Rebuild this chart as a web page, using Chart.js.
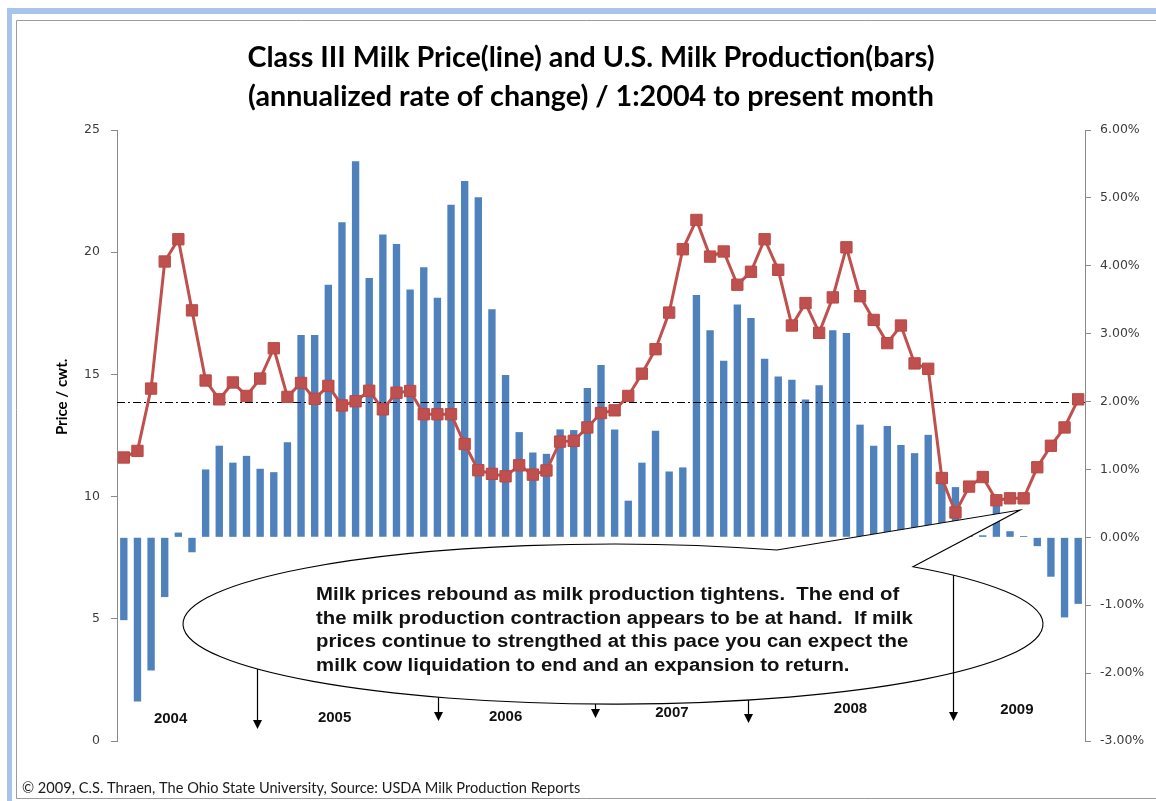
<!DOCTYPE html>
<html>
<head>
<meta charset="utf-8">
<title>Class III Milk Price and U.S. Milk Production</title>
<script src="https://cdn.jsdelivr.net/npm/chart.js@4.4.1/dist/chart.umd.min.js"></script>
<style>
  html, body { margin: 0; padding: 0; background: #fff; }
  #wrap { position: relative; width: 1156px; height: 801px; }
</style>
</head>
<body>
<div id="wrap"><canvas id="milkChart" width="1156" height="801"></canvas></div>
<script>
// Months Jan 2004 .. Nov 2009
const months = [
  'Jan-04', 'Feb-04', 'Mar-04', 'Apr-04', 'May-04', 'Jun-04', 'Jul-04', 'Aug-04', 'Sep-04', 'Oct-04', 'Nov-04', 'Dec-04',
  'Jan-05', 'Feb-05', 'Mar-05', 'Apr-05', 'May-05', 'Jun-05', 'Jul-05', 'Aug-05', 'Sep-05', 'Oct-05', 'Nov-05', 'Dec-05',
  'Jan-06', 'Feb-06', 'Mar-06', 'Apr-06', 'May-06', 'Jun-06', 'Jul-06', 'Aug-06', 'Sep-06', 'Oct-06', 'Nov-06', 'Dec-06',
  'Jan-07', 'Feb-07', 'Mar-07', 'Apr-07', 'May-07', 'Jun-07', 'Jul-07', 'Aug-07', 'Sep-07', 'Oct-07', 'Nov-07', 'Dec-07',
  'Jan-08', 'Feb-08', 'Mar-08', 'Apr-08', 'May-08', 'Jun-08', 'Jul-08', 'Aug-08', 'Sep-08', 'Oct-08', 'Nov-08', 'Dec-08',
  'Jan-09', 'Feb-09', 'Mar-09', 'Apr-09', 'May-09', 'Jun-09', 'Jul-09', 'Aug-09', 'Sep-09', 'Oct-09', 'Nov-09',
];

// Class III price, $/cwt (left axis)
const classIIIPrice = [
  11.60, 11.87, 14.42, 19.62, 20.53, 17.62, 14.75, 13.98, 14.67, 14.12, 14.83, 16.07,
  14.08, 14.65, 14.00, 14.53, 13.73, 13.90, 14.33, 13.57, 14.25, 14.32, 13.37, 13.37,
  13.37, 12.15, 11.08, 10.93, 10.83, 11.28, 10.90, 11.07, 12.25, 12.28, 12.83, 13.42,
  13.53, 14.12, 15.03, 16.03, 17.53, 20.12, 21.32, 19.82, 20.03, 18.67, 19.20, 20.53,
  19.28, 17.00, 17.92, 16.70, 18.15, 20.20, 18.20, 17.23, 16.28, 17.00, 15.45, 15.23,
  10.76, 9.35, 10.41, 10.80, 9.85, 9.93, 9.93, 11.20, 12.08, 12.83, 13.98,
];

// U.S. milk production, annualized % change (right axis)
const productionChange = [
  -1.22, -2.42, -1.96, -0.88, 0.07, -0.22, 1.00, 1.35, 1.10, 1.20, 1.01, 0.96,
  1.40, 2.98, 2.98, 3.72, 4.64, 5.54, 3.82, 4.46, 4.32, 3.65, 3.98, 3.53,
  4.90, 5.25, 5.01, 3.36, 2.39, 1.55, 1.25, 1.23, 1.59, 1.58, 2.20, 2.54,
  1.59, 0.54, 1.10, 1.57, 0.97, 1.03, 3.57, 3.05, 2.60, 3.43, 3.23, 2.63,
  2.37, 2.32, 2.03, 2.24, 3.05, 3.01, 1.66, 1.35, 1.64, 1.36, 1.24, 1.51,
  0.80, 0.74, 0.15, 0.03, 0.47, 0.09, 0.02, -0.13, -0.58, -1.18, -0.98,
];

const years = ['2004', '2005', '2006', '2007', '2008', '2009'];
const refLevel = 2.0; // dash-dot reference, % on right axis

const titleLines = [
  'Class III Milk Price(line) and U.S. Milk Production(bars)',
  '(annualized rate of change) / 1:2004 to present month',
];
const calloutLines = [
  'Milk prices rebound as milk production tightens.  The end of',
  'the milk production contraction appears to be at hand.  If milk',
  'prices continue to strengthed at this pace you can expect the',
  'milk cow liquidation to end and an expansion to return.',
];
const leftAxisTitle = 'Price / cwt.';
const footerText = '\u00A9 2009, C.S. Thraen, The Ohio State University, Source: USDA Milk Production Reports';

/**
 * Frame, reference line, callout, arrows and labels.
 */
const milkDecor = {
  id: 'milkDecor',

  beforeDraw(chart) {
    const { ctx, width, height } = chart;
    ctx.save();
    ctx.fillStyle = '#ffffff';
    ctx.fillRect(0, 0, width, height);
    ctx.fillStyle = '#a9c4ea';
    ctx.fillRect(7, 8, width - 7, 6);
    ctx.fillRect(7, 8, 5, height - 8);
    ctx.strokeStyle = '#9c9c9c';
    ctx.lineWidth = 1;
    ctx.beginPath();
    ctx.moveTo(width, 20.5);
    ctx.lineTo(16.5, 20.5);
    ctx.lineTo(16.5, 798.5);
    ctx.lineTo(width, 798.5);
    ctx.stroke();
    ctx.restore();
  },

  afterDatasetDraw(chart, args) {
    if (args.index !== 1) return; // after the bars, under the line
    const { ctx, chartArea } = chart;
    const y = Math.round(chart.scales.y1.getPixelForValue(refLevel)) + 0.5;
    ctx.save();
    ctx.strokeStyle = '#000';
    ctx.lineWidth = 1;
    ctx.setLineDash([8, 3, 2, 3]);
    ctx.beginPath();
    ctx.moveTo(chartArea.left, y);
    ctx.lineTo(chartArea.right, y);
    ctx.stroke();
    ctx.restore();
  },

  afterDatasetsDraw(chart) {
    const { ctx, chartArea } = chart;
    const xs = chart.scales.x;
    const ys = chart.scales.y;
    const X = i => xs.getPixelForValue(i);
    const Y = v => ys.getPixelForValue(v);

    // callout ellipse with wedge
    const eL = X(4.34), eR = X(67.42), eT = Y(8.06), eB = Y(1.51);
    const cx = (eL + eR) / 2, cy = (eT + eB) / 2;
    const rx = (eR - eL) / 2, ry = (eB - eT) / 2;
    const angAt = px => Math.atan2(-Math.sqrt(1 - Math.pow((px - cx) / rx, 2)), (px - cx) / rx);
    const aA = angAt(X(47.9));
    const aB = angAt(X(57.88));
    const tipX = X(65.74), tipY = Y(9.45);

    ctx.save();
    ctx.beginPath();
    ctx.ellipse(cx, cy, rx, ry, 0, aB, aA + Math.PI * 2);
    ctx.lineTo(tipX, tipY);
    ctx.closePath();
    ctx.fillStyle = '#ffffff';
    ctx.fill();
    ctx.strokeStyle = '#000';
    ctx.lineWidth = 1.1;
    ctx.stroke();

    // callout text (slightly widened, like the source)
    ctx.fillStyle = '#111';
    ctx.font = 'bold 18px "Liberation Sans", Arial, sans-serif';
    ctx.textBaseline = 'middle';
    ctx.textAlign = 'left';
    calloutLines.forEach((line, k) => {
      ctx.save();
      ctx.translate(X(14.1), Y(5.99 - k * 0.98));
      ctx.scale(1.13, 1);
      ctx.fillText(line, 0, 0);
      ctx.restore();
    });

    // arrows (from ellipse edge downward)
    const ellBottom = px => cy + ry * Math.sqrt(Math.max(0, 1 - Math.pow((px - cx) / rx, 2)));
    const ellTop = px => cy - ry * Math.sqrt(Math.max(0, 1 - Math.pow((px - cx) / rx, 2)));
    const arrows = [
      { i: 9.75, to: 0.49 },
      { i: 23.05, to: 0.82 },
      { i: 34.57, to: 0.94 },
      { i: 45.79, to: 0.74 },
      { i: 60.84, to: 0.82, fromTop: true },
    ];
    ctx.strokeStyle = '#000';
    ctx.fillStyle = '#000';
    ctx.lineWidth = 1.2;
    arrows.forEach(a => {
      const ax = Math.round(X(a.i)) + 0.5;
      const y0 = a.fromTop ? ellTop(ax) : ellBottom(ax);
      const y1 = Y(a.to);
      ctx.beginPath();
      ctx.moveTo(ax, y0);
      ctx.lineTo(ax, y1 - 8);
      ctx.stroke();
      ctx.beginPath();
      ctx.moveTo(ax - 4.5, y1 - 9);
      ctx.lineTo(ax + 4.5, y1 - 9);
      ctx.lineTo(ax, y1);
      ctx.closePath();
      ctx.fill();
    });

    // year labels
    const yearPos = [[3.43, 0.9], [15.46, 0.94], [28.0, 0.98], [40.2, 1.15], [53.3, 1.31], [65.5, 1.27]];
    ctx.font = 'bold 15px "Liberation Sans", Arial, sans-serif';
    ctx.textAlign = 'center';
    ctx.fillStyle = '#111';
    years.forEach((yr, k) => ctx.fillText(yr, X(yearPos[k][0]), Y(yearPos[k][1])));

    // left axis title
    ctx.save();
    ctx.translate(chartArea.left - 55, Y(14.08));
    ctx.rotate(-Math.PI / 2);
    ctx.font = 'bold 15px Lato, "Liberation Sans", sans-serif';
    ctx.fillStyle = '#000';
    ctx.fillText(leftAxisTitle, 0, 0);
    ctx.restore();

    ctx.restore();
  },

  afterDraw(chart) {
    const { ctx } = chart;
    ctx.save();
    ctx.font = '14.6px Lato, "Liberation Sans", sans-serif';
    ctx.fillStyle = '#1a1a1a';
    ctx.textAlign = 'left';
    ctx.textBaseline = 'middle';
    ctx.fillText(footerText, 22, 788);
    ctx.restore();
  },
};

const axisGray = '#8a8a8a';
const tickFont = { family: '"DejaVu Sans", Verdana, sans-serif', size: 12.5 };

new Chart(document.getElementById('milkChart'), {
  type: 'bar',
  data: {
    labels: months,
    datasets: [
      {
        type: 'line',
        label: 'Class III Price',
        data: classIIIPrice,
        yAxisID: 'y',
        borderColor: '#c0504d',
        borderWidth: 3,
        tension: 0,
        pointStyle: 'rect',
        pointRadius: 8,
        pointBackgroundColor: '#c0504d',
        pointBorderColor: '#b64946',
        pointBorderWidth: 1,
        order: 0,
      },
      {
        type: 'bar',
        label: 'Milk Production',
        data: productionChange,
        yAxisID: 'y1',
        backgroundColor: '#4f81bd',
        borderWidth: 0,
        barPercentage: 0.54,
        categoryPercentage: 1,
        order: 1,
      },
    ],
  },
  options: {
    responsive: false,
    devicePixelRatio: 1,
    animation: false,
    layout: { padding: { left: 26, right: 0, top: 0, bottom: 60 } },
    plugins: {
      legend: { display: false },
      tooltip: { enabled: false },
      title: {
        display: true,
        text: titleLines,
        color: '#000',
        font: { family: 'Lato, "Liberation Sans", sans-serif', size: 28.7, weight: 'bold', lineHeight: 1.359 },
        padding: { top: 38, bottom: 14 },
      },
    },
    scales: {
      x: {
        display: false,
        offset: true,
      },
      y: {
        position: 'left',
        min: 0,
        max: 25,
        ticks: { stepSize: 5, color: '#3c3c3c', font: tickFont, padding: 11 },
        grid: { drawOnChartArea: false, drawTicks: true, tickLength: 6, color: axisGray },
        border: { color: axisGray },
        afterFit: s => { s.width = 117 - 26; },
      },
      y1: {
        position: 'right',
        min: -3,
        max: 6,
        ticks: {
          stepSize: 1,
          color: '#3c3c3c',
          font: tickFont,
          padding: 9,
          callback: v => v.toFixed(2) + '%',
        },
        grid: { drawOnChartArea: false, drawTicks: true, tickLength: 6, color: axisGray },
        border: { color: axisGray },
        afterFit: s => { s.width = 1156 - 1085; },
      },
    },
  },
  plugins: [milkDecor],
});
</script>
</body>
</html>
